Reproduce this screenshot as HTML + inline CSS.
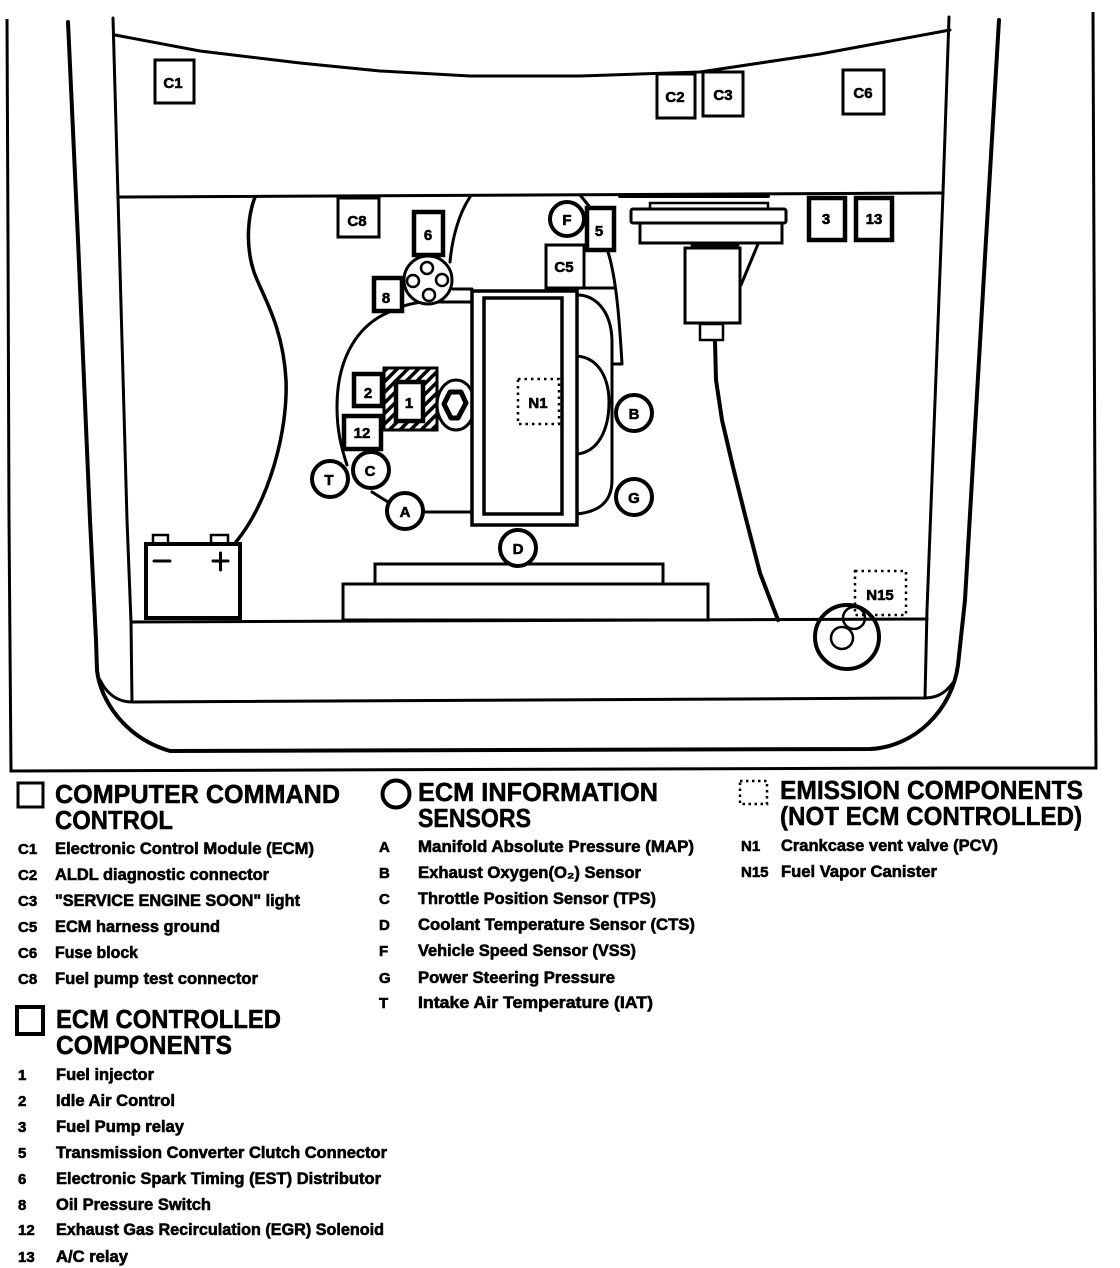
<!DOCTYPE html>
<html><head><meta charset="utf-8"><style>
html,body{margin:0;padding:0;background:#fff}
svg{display:block}
text{font-family:"Liberation Sans",sans-serif;font-weight:700;fill:#000;stroke:#000;stroke-width:.6}
.h{font-size:26px;stroke-width:.5}
.r{font-size:16.5px}
.l{font-size:15px;text-anchor:middle}
.k{font-size:15px}
.n{fill:none;stroke:#000;stroke-width:3;stroke-linecap:round;stroke-linejoin:round}
.t{fill:none;stroke:#000;stroke-width:2}
.b{fill:#fff;stroke:#000;stroke-width:2.5}
.bb{fill:#fff;stroke:#000;stroke-width:4.5}
.c{fill:#fff;stroke:#000;stroke-width:4}
.d{fill:#fff;stroke:#000;stroke-width:2.5;stroke-dasharray:2.5 4}
</style></head><body>
<svg width="1120" height="1268" viewBox="0 0 1120 1268" xmlns="http://www.w3.org/2000/svg">
<defs><pattern id="h" width="7.5" height="7.5" patternUnits="userSpaceOnUse" patternTransform="rotate(45)"><rect width="3.5" height="7.5" fill="#000"/></pattern></defs>
<rect width="1120" height="1268" fill="#fff"/>
<!-- frame -->
<path class="t" style="stroke-width:3" d="M7 19L8 240L9 520L11 771L945 768H1096L1093 12"/>
<!-- body -->
<path class="n" style="stroke-width:4" d="M68 22L78 240L90 520L96 640L97 670C100 700 125 738 170 751L870 749C915 747 952 710 958 665L965 600L986 240L999 20"/>
<path class="n" d="M113 18L118 197L127 520L131 622L132 702L925 698L927 610L943 193L949 17"/>
<path class="n" d="M115 35L200 51L300 63L380 71L470 76L580 76L700 72L820 54L950 30"/>
<path class="n" d="M118 197L943 193M131 622L927 619"/>
<path class="n" d="M100 680C106 692 116 702 132 702M925 698C940 698 948 690 955 680"/>
<!-- hoses -->
<path class="n" style="stroke-width:3.5" d="M255 197C248 215 245 245 254 272C262 295 283 325 286 380C288 430 270 500 236 542"/>
<path class="n" d="M470 197C458 215 452 240 450 262"/>
<path class="n" d="M472 302H423C405 304 398 308 387 313C360 325 337 355 337 407C337 430 341 447 347 465"/>
<path class="n" d="M453 289H472"/>
<path class="n" d="M425 512H472"/>
<path class="n" d="M372 492L388 502"/>
<path class="n" d="M577 295C595 295 611 310 612 340V480C612 505 595 512 577 514"/>
<path class="n" d="M577 356C600 358 609 380 609 402C609 430 598 452 577 454"/>
<path class="n" d="M578 288H614"/>
<path class="n" d="M608 252C617 280 620 330 622 364H614"/>
<path class="n" d="M580 195L589 206"/>
<!-- engine -->
<rect x="343" y="584" width="365" height="36" class="b" style="stroke-width:3"/>
<rect x="375" y="564" width="288" height="20" class="b" style="stroke-width:3"/>
<!-- oval behind -->
<ellipse cx="456" cy="405" rx="19" ry="25" class="c" style="stroke-width:3"/>
<path d="M444 404L450 392H461L466 403L458 418H451Z" fill="#fff" stroke="#000" stroke-width="5" stroke-linejoin="round"/>
<!-- big rect -->
<rect x="472" y="291" width="105" height="234" class="b" style="stroke-width:3.5"/>
<rect x="484" y="298" width="78" height="216" class="b" style="stroke-width:3.5"/>
<rect x="518" y="379" width="41" height="45" class="d"/>
<text x="538" y="408" class="l">N1</text>
<!-- injector -->
<rect x="384" y="368" width="53" height="62" fill="url(#h)" stroke="#000" stroke-width="3"/>
<rect x="396" y="382" width="27" height="39" class="bb"/>
<text x="409" y="408" class="l">1</text>
<rect x="354" y="374" width="28" height="32" class="bb"/><text x="368" y="398" class="l">2</text>
<rect x="344" y="416" width="37" height="33" class="bb"/><text x="362" y="438" class="l">12</text>
<!-- distributor -->
<circle cx="428" cy="280" r="24" class="c" style="stroke-width:3"/>
<circle cx="427" cy="268" r="6" class="c" style="stroke-width:2.5"/><circle cx="413" cy="281" r="6" class="c" style="stroke-width:2.5"/><circle cx="442" cy="280" r="6" class="c" style="stroke-width:2.5"/><circle cx="429" cy="295" r="6" class="c" style="stroke-width:2.5"/>
<rect x="414" y="212" width="29" height="43" class="bb"/><text x="428" y="240" class="l">6</text>
<rect x="374" y="278" width="28" height="33" class="bb"/><text x="386" y="303" class="l">8</text>
<rect x="338" y="198" width="41" height="39" class="b" style="stroke-width:3"/><text x="357" y="226" class="l">C8</text>
<rect x="546" y="245" width="38" height="43" class="b" style="stroke-width:3"/><text x="564" y="272" class="l">C5</text>
<circle cx="567" cy="219" r="17" class="c"/><text x="567" y="225" class="l">F</text>
<rect x="587" y="208" width="27" height="42" class="bb"/><text x="599" y="236" class="l">5</text>
<!-- master cylinder -->
<path class="n" style="stroke-width:4" d="M620 196H768"/>
<rect x="692" y="193" width="46" height="4" fill="#000"/>
<rect x="650" y="203" width="118" height="6" class="b"/>
<rect x="631" y="209" width="155" height="14" rx="2" class="b" style="stroke-width:3"/>
<rect x="640" y="223" width="142" height="20" class="b" style="stroke-width:3"/>
<path class="n" d="M692 245H738"/>
<path class="n" d="M758 244L741 285"/>
<rect x="685" y="248" width="55" height="75" class="b" style="stroke-width:3"/>
<rect x="700" y="324" width="23" height="16" class="b"/>
<path class="n" style="stroke-width:4" d="M715 341L716 380L722 420L733 467L745 515L760 573L778 620"/>
<rect x="809" y="198" width="36" height="42" class="bb"/><text x="826" y="224" class="l">3</text>
<rect x="856" y="198" width="36" height="42" class="bb"/><text x="874" y="224" class="l">13</text>
<!-- sensors -->
<circle cx="634" cy="413" r="18" class="c"/><text x="634" y="419" class="l">B</text>
<circle cx="634" cy="497" r="18" class="c"/><text x="634" y="503" class="l">G</text>
<circle cx="405" cy="511" r="18" class="c"/><text x="405" y="517" class="l">A</text>
<circle cx="518" cy="548" r="18" class="c"/><text x="518" y="554" class="l">D</text>
<circle cx="371" cy="470" r="18" class="c"/><text x="370" y="476" class="l">C</text>
<circle cx="330" cy="479" r="18" class="c"/><text x="329" y="485" class="l">T</text>
<!-- battery -->
<rect x="153" y="535" width="15" height="9" class="b"/><rect x="211" y="535" width="17" height="9" class="b"/>
<rect x="146" y="544" width="94" height="74" class="b" style="stroke-width:4"/>
<path class="n" d="M154 561H170M213 561H228M220.500 553V570"/>
<!-- canister -->
<circle cx="847" cy="637" r="32" fill="none" stroke="#000" stroke-width="4"/>
<circle cx="854" cy="618" r="11" fill="none" stroke="#000" stroke-width="2.5"/>
<circle cx="842" cy="638" r="11" fill="none" stroke="#000" stroke-width="2.5"/>
<rect x="855" y="571" width="51" height="44" fill="none" stroke="#000" stroke-width="2.5" stroke-dasharray="2.5 4"/>
<text x="880" y="600" class="l">N15</text>
<!-- top boxes -->
<rect x="155" y="60" width="39" height="43" class="b" style="stroke-width:3"/><text x="173" y="88" class="l">C1</text>
<rect x="657" y="74" width="38" height="44" class="b" style="stroke-width:3"/><text x="675" y="102" class="l">C2</text>
<rect x="703" y="72" width="40" height="44" class="b" style="stroke-width:3"/><text x="723" y="100" class="l">C3</text>
<rect x="843" y="70" width="41" height="44" class="b" style="stroke-width:3"/><text x="863" y="98" class="l">C6</text>
<!-- legend 1 -->
<rect x="18" y="783" width="25" height="24" class="t" style="stroke-width:3"/>
<text x="55" y="803" class="h" textLength="285" lengthAdjust="spacingAndGlyphs">COMPUTER COMMAND</text>
<text x="55" y="829" class="h" textLength="118" lengthAdjust="spacingAndGlyphs">CONTROL</text>
<g class="r">
<text x="18" y="854" class="k">C1</text><text x="55" y="854" textLength="259" lengthAdjust="spacingAndGlyphs">Electronic Control Module (ECM)</text>
<text x="18" y="880" class="k">C2</text><text x="55" y="880" textLength="214" lengthAdjust="spacingAndGlyphs">ALDL diagnostic connector</text>
<text x="18" y="906" class="k">C3</text><text x="55" y="906" textLength="245" lengthAdjust="spacingAndGlyphs">"SERVICE ENGINE SOON" light</text>
<text x="18" y="932" class="k">C5</text><text x="55" y="932" textLength="165" lengthAdjust="spacingAndGlyphs">ECM harness ground</text>
<text x="18" y="958" class="k">C6</text><text x="55" y="958" textLength="83" lengthAdjust="spacingAndGlyphs">Fuse block</text>
<text x="18" y="984" class="k">C8</text><text x="55" y="984" textLength="203" lengthAdjust="spacingAndGlyphs">Fuel pump test connector</text>
</g>
<!-- legend 2 -->
<rect x="17" y="1007" width="26" height="27" class="t" style="stroke-width:4"/>
<text x="56" y="1028" class="h" textLength="225" lengthAdjust="spacingAndGlyphs">ECM CONTROLLED</text>
<text x="56" y="1054" class="h" textLength="176" lengthAdjust="spacingAndGlyphs">COMPONENTS</text>
<g class="r">
<text x="18" y="1080" class="k">1</text><text x="56" y="1080" textLength="98" lengthAdjust="spacingAndGlyphs">Fuel injector</text>
<text x="18" y="1106" class="k">2</text><text x="56" y="1106" textLength="119" lengthAdjust="spacingAndGlyphs">Idle Air Control</text>
<text x="18" y="1132" class="k">3</text><text x="56" y="1132" textLength="128" lengthAdjust="spacingAndGlyphs">Fuel Pump relay</text>
<text x="18" y="1158" class="k">5</text><text x="56" y="1158" textLength="331" lengthAdjust="spacingAndGlyphs">Transmission Converter Clutch Connector</text>
<text x="18" y="1184" class="k">6</text><text x="56" y="1184" textLength="325" lengthAdjust="spacingAndGlyphs">Electronic Spark Timing (EST) Distributor</text>
<text x="18" y="1210" class="k">8</text><text x="56" y="1210" textLength="155" lengthAdjust="spacingAndGlyphs">Oil Pressure Switch</text>
<text x="18" y="1235" class="k">12</text><text x="56" y="1235" textLength="328" lengthAdjust="spacingAndGlyphs">Exhaust Gas Recirculation (EGR) Solenoid</text>
<text x="18" y="1262" class="k">13</text><text x="56" y="1262" textLength="72" lengthAdjust="spacingAndGlyphs">A/C relay</text>
</g>
<!-- legend 3 -->
<circle cx="396" cy="794" r="13.5" class="t" style="stroke-width:4"/>
<text x="418" y="801" class="h" textLength="240" lengthAdjust="spacingAndGlyphs">ECM INFORMATION</text>
<text x="418" y="827" class="h" textLength="113" lengthAdjust="spacingAndGlyphs">SENSORS</text>
<g class="r">
<text x="379" y="852" class="k">A</text><text x="418" y="852" textLength="276" lengthAdjust="spacingAndGlyphs">Manifold Absolute Pressure (MAP)</text>
<text x="379" y="878" class="k">B</text><text x="418" y="878" textLength="223" lengthAdjust="spacingAndGlyphs">Exhaust Oxygen(O₂) Sensor</text>
<text x="379" y="904" class="k">C</text><text x="418" y="904" textLength="238" lengthAdjust="spacingAndGlyphs">Throttle Position Sensor (TPS)</text>
<text x="379" y="930" class="k">D</text><text x="418" y="930" textLength="277" lengthAdjust="spacingAndGlyphs">Coolant Temperature Sensor (CTS)</text>
<text x="379" y="956" class="k">F</text><text x="418" y="956" textLength="218" lengthAdjust="spacingAndGlyphs">Vehicle Speed Sensor (VSS)</text>
<text x="379" y="983" class="k">G</text><text x="418" y="983" textLength="197" lengthAdjust="spacingAndGlyphs">Power Steering Pressure</text>
<text x="379" y="1008" class="k">T</text><text x="418" y="1008" textLength="235" lengthAdjust="spacingAndGlyphs">Intake  Air Temperature (IAT)</text>
</g>
<!-- legend 4 -->
<rect x="740" y="781" width="27" height="23" fill="none" stroke="#000" stroke-width="2.5" stroke-dasharray="2.5 3.5"/>
<text x="780" y="799" class="h" textLength="303" lengthAdjust="spacingAndGlyphs">EMISSION COMPONENTS</text>
<text x="780" y="825" class="h" textLength="302" lengthAdjust="spacingAndGlyphs">(NOT ECM CONTROLLED)</text>
<g class="r">
<text x="741" y="851" class="k">N1</text><text x="781" y="851" textLength="217" lengthAdjust="spacingAndGlyphs">Crankcase vent valve (PCV)</text>
<text x="741" y="877" class="k">N15</text><text x="781" y="877" textLength="156" lengthAdjust="spacingAndGlyphs">Fuel Vapor Canister</text>
</g>
</svg>
</body></html>
